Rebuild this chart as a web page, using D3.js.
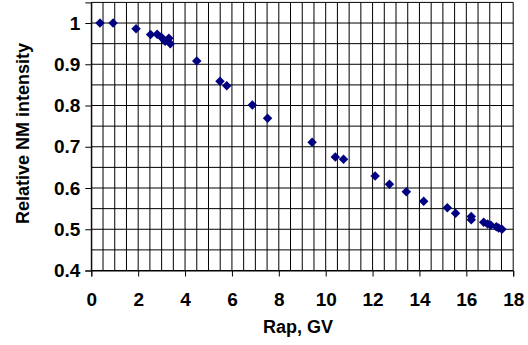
<!DOCTYPE html>
<html>
<head>
<meta charset="utf-8">
<script src="https://cdn.jsdelivr.net/npm/d3@7"></script>
<style>
  html, body { margin: 0; padding: 0; background: #fff; }
  svg { display: block; }
  text { font-family: "Liberation Sans", Arial, sans-serif; font-weight: bold; fill: #000; }
</style>
</head>
<body>
<svg id="chart" width="528" height="345"></svg>
<script>
// Cutoff rigidity (GV) of each station and its relative neutron monitor intensity
const rigidity = [0.37, 0.93, 1.91, 2.53, 2.81, 2.98, 3.15, 3.31, 3.37, 4.50, 5.49, 5.78,
                  6.87, 7.52, 9.42, 10.41, 10.76, 12.11, 12.72, 13.44, 14.18, 15.19, 15.54,
                  16.21, 16.21, 16.74, 16.91, 17.05, 17.28, 17.38, 17.52];
const intensity = [1.0, 1.0, 0.986, 0.972, 0.973, 0.966, 0.956, 0.963, 0.950, 0.908, 0.859, 0.848,
                   0.801, 0.769, 0.711, 0.675, 0.670, 0.629, 0.609, 0.591, 0.568, 0.552, 0.539,
                   0.531, 0.523, 0.517, 0.513, 0.510, 0.506, 0.503, 0.500];

const xTicks = [0, 2, 4, 6, 8, 10, 12, 14, 16, 18];
const yTicks = [0.4, 0.5, 0.6, 0.7, 0.8, 0.9, 1.0];
const xGrid = d3.range(0, 18.001, 0.5);
const yGrid = d3.range(0.4, 1.0501, 0.05);

const svg = d3.select("#chart");
const plotLeft = 91.3, plotRight = 513.2, plotTop = 2.4, plotBottom = 270.5;

const x = d3.scaleLinear().domain([0, 18]).range([plotLeft, plotRight]);
const y = d3.scaleLinear().domain([0.4, 1.05]).range([plotBottom, plotTop]);

// grid lines
const grid = svg.append("g").attr("stroke", "#000").attr("stroke-width", 1);
grid.selectAll("line.v").data(xGrid).join("line").attr("class", "v")
  .attr("x1", d => x(d)).attr("x2", d => x(d))
  .attr("y1", y(1.05)).attr("y2", y(0.4));
grid.selectAll("line.h").data(yGrid).join("line").attr("class", "h")
  .attr("x1", x(0)).attr("x2", x(18))
  .attr("y1", d => y(d)).attr("y2", d => y(d));

// axes
const fmtY = d => d === 1 ? "1" : d3.format(".1f")(d);
const yAxis = svg.append("g").attr("transform", `translate(${plotLeft},0)`)
  .call(d3.axisLeft(y).tickValues(yTicks).tickFormat(fmtY).tickSize(6).tickPadding(5));
const xAxis = svg.append("g").attr("transform", `translate(0,${plotBottom})`)
  .call(d3.axisBottom(x).tickValues(xTicks).tickFormat(d3.format("d")).tickSize(6).tickPadding(16));
[xAxis, yAxis].forEach(g => {
  g.select(".domain").attr("stroke", "#000");
  g.selectAll(".tick line").attr("stroke", "#000");
  g.selectAll(".tick text").style("font-size", "19px")
    .style("font-family", "'Liberation Sans', Arial, sans-serif").style("font-weight", "bold");
});

// data points
const diamond = d3.symbol().type(d3.symbolSquare).size(45);
svg.append("g").selectAll("path").data(rigidity).join("path")
  .attr("d", diamond)
  .attr("transform", (d, i) => `translate(${x(d)},${y(intensity[i])}) rotate(45)`)
  .attr("fill", "#000080");

// axis titles
svg.append("text").attr("x", 298).attr("y", 333)
  .attr("text-anchor", "middle").style("font-size", "18px").text("Rap, GV");
svg.append("text").attr("transform", `translate(29,${(plotTop + plotBottom) / 2 - 3}) rotate(-90)`)
  .attr("text-anchor", "middle").style("font-size", "18px").text("Relative NM intensity");
</script>
</body>
</html>
